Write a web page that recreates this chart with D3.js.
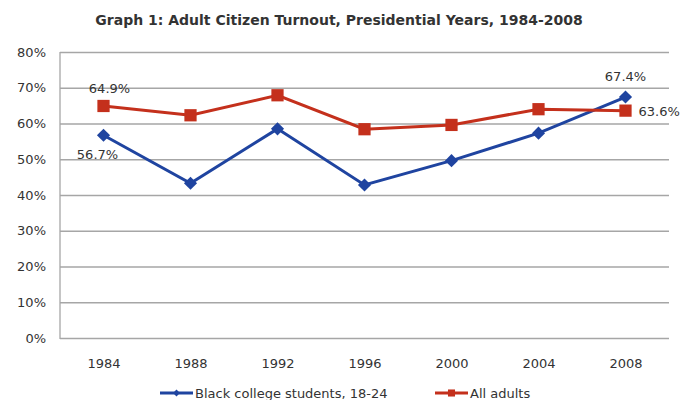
<!DOCTYPE html>
<html>
<head>
<meta charset="utf-8">
<script src="https://cdn.jsdelivr.net/npm/d3@7"></script>
<style>
  body { margin: 0; background: #fff; }
  text { font-family: "DejaVu Sans", Verdana, sans-serif; fill: #333; }
</style>
</head>
<body>
<script>
// chart data
var years = ["1984", "1988", "1992", "1996", "2000", "2004", "2008"];
var blackStudents = [56.7, 43.3, 58.5, 42.8, 49.6, 57.3, 67.4];
var allAdults = [64.9, 62.3, 67.9, 58.4, 59.6, 64.0, 63.6];
var yTicks = [0, 10, 20, 30, 40, 50, 60, 70, 80];
var seriesNames = ["Black college students, 18-24", "All adults"];

var width = 694, height = 400;
var plotLeft = 60, plotRight = 669, plotTop = 52, plotBottom = 338;
var fs = 13;

var svg = d3.select("body").append("svg")
    .attr("width", width)
    .attr("height", height);

var x = d3.scalePoint()
    .domain(years)
    .range([plotLeft, plotRight])
    .padding(0.5);

var y = d3.scaleLinear()
    .domain([0, 80])
    .range([plotBottom, plotTop]);

// title
svg.append("text")
    .attr("x", 339)
    .attr("y", 25)
    .attr("text-anchor", "middle")
    .attr("font-weight", "bold")
    .attr("font-size", 14)
    .text("Graph 1: Adult Citizen Turnout, Presidential Years, 1984-2008");

// gridlines
svg.append("g")
    .attr("transform", "translate(" + plotLeft + ",0)")
    .call(d3.axisLeft(y).tickValues(yTicks).tickSize(-(plotRight - plotLeft)).tickFormat(""))
    .call(function(g) { g.select(".domain").remove(); })
    .selectAll("line")
    .attr("stroke", "#a6a6a6")
    .attr("stroke-width", 1.3);

// y axis labels
svg.append("g")
    .attr("transform", "translate(" + (plotLeft - 14) + ",0)")
    .call(d3.axisLeft(y).tickValues(yTicks).tickSize(0).tickFormat(function(d) { return d + "%"; }))
    .call(function(g) { g.select(".domain").remove(); })
    .selectAll("text")
    .attr("font-size", fs)
    .attr("fill", "#333")
    .attr("x", 0);

// y axis line
svg.append("line")
    .attr("x1", plotLeft).attr("x2", plotLeft)
    .attr("y1", plotTop).attr("y2", plotBottom + 1)
    .attr("stroke", "#a6a6a6")
    .attr("stroke-width", 1.3);

// x labels
svg.append("g")
    .attr("transform", "translate(0," + plotBottom + ")")
    .call(d3.axisBottom(x).tickSize(0).tickPadding(21))
    .call(function(g) { g.select(".domain").remove(); })
    .selectAll("text")
    .attr("font-size", fs)
    .attr("fill", "#333");

var blue = "#1f44a0", red = "#c4301c";

var line = d3.line()
    .x(function(d, i) { return x(years[i]); })
    .y(function(d) { return y(d); });

svg.append("path")
    .datum(blackStudents)
    .attr("d", line)
    .attr("fill", "none")
    .attr("stroke", blue)
    .attr("stroke-width", 3);

svg.append("path")
    .datum(allAdults)
    .attr("d", line)
    .attr("fill", "none")
    .attr("stroke", red)
    .attr("stroke-width", 3);

var diamond = d3.symbol().type(d3.symbolDiamond2).size(110);
var square = d3.symbol().type(d3.symbolSquare).size(150);

svg.selectAll(".diamond")
    .data(blackStudents)
    .enter().append("path")
    .attr("class", "diamond")
    .attr("d", diamond)
    .attr("transform", function(d, i) { return "translate(" + x(years[i]) + "," + y(d) + ")"; })
    .attr("fill", blue);

svg.selectAll(".square")
    .data(allAdults)
    .enter().append("path")
    .attr("class", "square")
    .attr("d", square)
    .attr("transform", function(d, i) { return "translate(" + x(years[i]) + "," + y(d) + ")"; })
    .attr("fill", red);

// data labels
function label(val, i, dx, dy, anchor) {
    svg.append("text")
        .attr("x", x(years[i]) + dx)
        .attr("y", y(val) + dy)
        .attr("text-anchor", anchor)
        .attr("font-size", fs)
        .text(val.toFixed(1) + "%");
}
label(allAdults[0], 0, 6, -13, "middle");
label(blackStudents[0], 0, -6, 24, "middle");
label(blackStudents[6], 6, 0, -16, "middle");
label(allAdults[6], 6, 13, 5, "start");

// legend
var legend = svg.append("g").attr("transform", "translate(0,393)");
[[blue, 160, seriesNames[0]], [red, 435, seriesNames[1]]].forEach(function(s, k) {
    legend.append("line")
        .attr("x1", s[1]).attr("x2", s[1] + 33)
        .attr("stroke", s[0])
        .attr("stroke-width", 3);
    legend.append("path")
        .attr("d", k === 0 ? d3.symbol().type(d3.symbolDiamond2).size(30)() : d3.symbol().type(d3.symbolSquare).size(50)())
        .attr("transform", "translate(" + (s[1] + 16.5) + ",0)")
        .attr("fill", s[0]);
    legend.append("text")
        .attr("x", s[1] + 35)
        .attr("y", 5)
        .attr("font-size", fs)
        .text(s[2]);
});
</script>
</body>
</html>
